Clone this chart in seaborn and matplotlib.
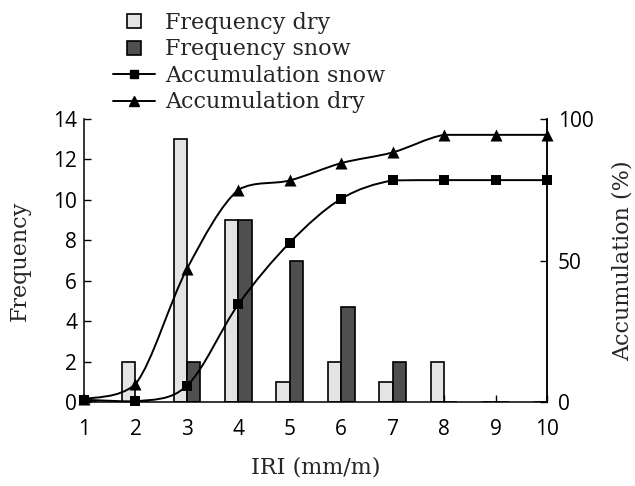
import numpy as np
import pandas as pd
import matplotlib
matplotlib.use("Agg")
import matplotlib.pyplot as plt
from matplotlib.path import Path
from matplotlib.patches import PathPatch
from matplotlib.lines import Line2D
import seaborn as sns

# IRI classes (mm/m)
iri = [1, 2, 3, 4, 5, 6, 7, 8, 9, 10]
iri_labels = ["1", "2", "3", "4", "5", "6", "7", "8", "9", "10"]

# Frequency of road sections per IRI class
freq_dry = [0, 2, 13, 9, 1, 2, 1, 2, 0, 0]
freq_snow = [0, 0, 2, 9, 7, 4.7, 2, 0, 0, 0]

# Cumulative share (%)
acc_snow = [0.8, 0.2, 5.7, 34.5, 56.3, 71.8, 78.3, 78.4, 78.4, 78.4]
acc_dry = [1.0, 6.3, 47.0, 75.0, 78.3, 84.4, 88.2, 94.4, 94.4, 94.4]

sns.set_theme(style="ticks")
serif = "DejaVu Serif"
sans = "Open Sans"
dry_color = "#e4e4e4"
snow_color = "#4f4f4f"

fig = plt.figure(figsize=(6.35, 4.86), dpi=100)
ax = fig.add_axes([84 / 635, 1 - 402 / 486, (547 - 84) / 635, (402 - 119) / 486])

bars = pd.DataFrame({
    "IRI": iri * 2,
    "Frequency": freq_dry + freq_snow,
    "Series": ["Frequency dry"] * len(iri) + ["Frequency snow"] * len(iri),
})
sns.barplot(data=bars, x="IRI", y="Frequency", hue="Series", native_scale=True,
            palette={"Frequency dry": dry_color, "Frequency snow": snow_color},
            width=0.52, gap=0, edgecolor="black", linewidth=1.2,
            errorbar=None, legend=False, ax=ax)

ax.set_xlim(1, 10)
ax.set_ylim(0, 14)
ax.set_yticks(range(0, 15, 2))
ax.set_xticks(iri)
ax.set_xticklabels(iri_labels)
ax.set_xlabel("IRI (mm/m)", family=serif, fontsize=16, labelpad=12)
ax.set_ylabel("Frequency", family=serif, fontsize=16)
ax.yaxis.set_label_coords(-0.115, 0.5)
ax.tick_params(axis="both", direction="in", length=5, width=1, colors="black",
               labelsize=15)
ax.tick_params(axis="x", pad=12)
ax.tick_params(axis="y", pad=5)
for lab in ax.get_xticklabels() + ax.get_yticklabels():
    lab.set_family(sans)
for s in ["left", "bottom", "right"]:
    ax.spines[s].set_linewidth(1.1)
    ax.spines[s].set_color("black")
ax.spines["top"].set_visible(False)

ax2 = ax.twinx()
ax2.set_ylim(0, 100)
ax2.set_yticks([0, 50, 100])
ax2.tick_params(axis="y", direction="in", length=5, width=1, colors="black",
                labelsize=15, pad=8)
for lab in ax2.get_yticklabels():
    lab.set_family(sans)
ax2.set_ylabel("Accumulation (%)", family=serif, fontsize=16)
ax2.yaxis.set_label_coords(1.14, 0.5)
for s in ["top", "left", "bottom"]:
    ax2.spines[s].set_visible(False)
ax2.spines["right"].set_linewidth(1.1)
ax2.spines["right"].set_color("black")


def smooth_path(xs, ys):
    """Catmull-Rom curve through the points as cubic Bezier segments,
    with control points kept inside each segment's value range."""
    pts = np.column_stack([xs, ys]).astype(float)
    ext = np.vstack([pts[0], pts, pts[-1]])
    verts = [tuple(pts[0])]
    codes = [Path.MOVETO]
    for i in range(1, len(ext) - 2):
        p0, p1, p2, p3 = ext[i - 1], ext[i], ext[i + 1], ext[i + 2]
        c1 = p1 + (p2 - p0) / 6.0
        c2 = p2 - (p3 - p1) / 6.0
        lo, hi = min(p1[1], p2[1]), max(p1[1], p2[1])
        c1[1] = np.clip(c1[1], lo, hi)
        c2[1] = np.clip(c2[1], lo, hi)
        verts += [tuple(c1), tuple(c2), tuple(p2)]
        codes += [Path.CURVE4] * 3
    return Path(verts, codes)


for ys in (acc_snow, acc_dry):
    ax2.add_patch(PathPatch(smooth_path(iri, ys), facecolor="none",
                            edgecolor="black", linewidth=1.4, zorder=3,
                            clip_on=False))

sns.scatterplot(x=iri, y=acc_snow, marker="s", s=60, color="black",
                edgecolor="black", linewidth=0, zorder=4, clip_on=False, ax=ax2)
sns.scatterplot(x=iri, y=acc_dry, marker="^", s=75, color="black",
                edgecolor="black", linewidth=0, zorder=4, clip_on=False, ax=ax2)
ax2.set_xlim(1, 10)

handles = [
    Line2D([], [], linestyle="None", marker="s", markersize=10,
           markerfacecolor=dry_color, markeredgecolor="black", markeredgewidth=1.2),
    Line2D([], [], linestyle="None", marker="s", markersize=10,
           markerfacecolor=snow_color, markeredgecolor="black", markeredgewidth=1.2),
    Line2D([], [], color="black", lw=1.4, marker="s", markersize=6),
    Line2D([], [], color="black", lw=1.4, marker="^", markersize=7),
]
labels = ["Frequency dry", "Frequency snow", "Accumulation snow", "Accumulation dry"]
fig.legend(handles, labels, loc="upper left", bbox_to_anchor=(113 / 635, 1 - 12 / 486),
           frameon=False, prop={"family": serif, "size": 16},
           handlelength=1.9, handletextpad=0.45, labelspacing=0.2,
           borderpad=0, borderaxespad=0)

fig.savefig("out.png", dpi=100)
